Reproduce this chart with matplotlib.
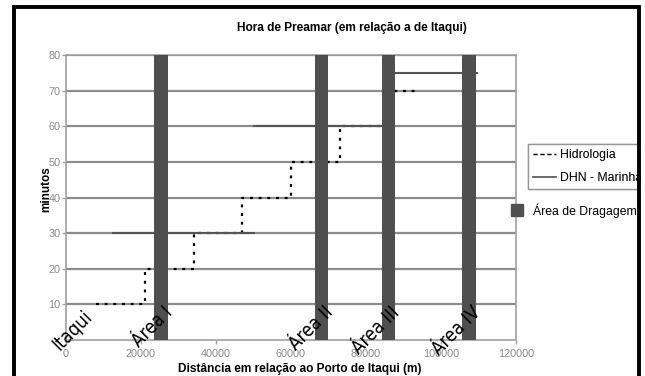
import numpy as np
import matplotlib
matplotlib.use('Agg')
import matplotlib.pyplot as plt
from matplotlib.lines import Line2D
from matplotlib.patches import Patch, Rectangle

# Hidrologia: tempo de preamar (min) ao longo do canal, em degraus
hid_x = [8000, 21000, 21000, 34000, 34000, 47000, 47000, 60000, 60000, 73000, 73000, 86000, 86000, 93000]
hid_y = [10, 10, 20, 20, 30, 30, 40, 40, 50, 50, 60, 60, 70, 70]

# DHN - Marinha: patamares separados (nan quebra a linha)
dhn_x = [12600, 50000, np.nan, 50000, 86000, np.nan, 88000, 109500]
dhn_y = [30, 30, np.nan, 60, 60, np.nan, 75, 75]

# áreas de dragagem (centro em metros)
areas = ['Área I', 'Área II', 'Área III', 'Área IV']
area_x = [25300, 68100, 86000, 107400]
area_h = [80, 80, 80, 80]

plt.rcParams['font.family'] = ['Liberation Sans', 'DejaVu Sans']

fig = plt.figure(figsize=(6.45, 3.76), dpi=100)
ax = fig.add_axes([66/645, 1-340/376, 450/645, 285/376])

grey = '#8c8c8c'
ax.set_xlim(0, 120000)
ax.set_ylim(0, 80)
ax.set_xticks(np.arange(0, 120001, 20000))
ax.set_yticks(np.arange(10, 81, 10))
ax.yaxis.grid(True, color=grey, lw=1.6, zorder=0)
ax.set_axisbelow(True)
for s in ax.spines.values():
    s.set_color('#a0a0a0')
    s.set_linewidth(1.2)
ax.tick_params(colors='#a0a0a0', labelcolor='#8a8a8a', labelsize=7.8, length=3, width=1)
ax.tick_params(axis='y', pad=1)

ax.plot(hid_x, hid_y, color='black', lw=1.6, linestyle=(0, (1.3, 2.6)), zorder=2)
ax.plot(dhn_x, dhn_y, color='#555555', lw=1.5, zorder=2)
ax.bar(area_x, area_h, width=3600, color='#4f4f4f', zorder=3)

# nomes dos locais, inclinados sobre o eixo
places = ['Itaqui'] + areas
place_x = [0] + area_x
for i, (name, x) in enumerate(zip(places, place_x)):
    off = (22, 24) if i == 0 else (11, 27)
    ax.annotate(name, xy=(x, 0), xytext=off, textcoords='offset points',
                rotation=45, ha='right', va='top', fontsize=13.5,
                family='DejaVu Sans', fontstretch='condensed',
                color='black', zorder=5, annotation_clip=False)

fig.text(352/645, 1-28/376, 'Hora de Preamar (em relação a de Itaqui)',
         ha='center', va='center', fontsize=8.6, fontweight='bold')
fig.text(300/645, 1-369/376, 'Distância em relação ao Porto de Itaqui (m)',
         ha='center', va='center', fontsize=8.6, fontweight='bold')
fig.text(46/645, 1-189/376, 'minutos', rotation=90,
         ha='center', va='center', fontsize=8.5, fontweight='bold')

h_hid = Line2D([], [], color='black', lw=1, linestyle=(0, (3, 2)))
h_dhn = Line2D([], [], color='#555555', lw=1.2)
leg1 = fig.legend(handles=[h_hid, h_dhn], labels=['Hidrologia', 'DHN - Marinha'],
                  loc='upper left', bbox_to_anchor=(528/645, 1-144/376),
                  fontsize=8.8, frameon=True, fancybox=False, edgecolor=grey,
                  borderaxespad=0, borderpad=0.4, labelspacing=0.9,
                  handlelength=1.9, handletextpad=0.3)
leg1.get_frame().set_linewidth(1)
fig.add_artist(leg1)
leg2 = fig.legend(handles=[Patch(color='#4f4f4f')], labels=['Área de Dragagem'],
                  loc='upper left', bbox_to_anchor=(511/645, 1-203/376),
                  fontsize=8.8, frameon=False, borderaxespad=0, borderpad=0,
                  handlelength=1.0, handleheight=1.1, handletextpad=0.8)

# moldura preta
fig.add_artist(Rectangle((641/645, 0), 4/645, 1, transform=fig.transFigure,
                         facecolor='white', edgecolor='none', zorder=20))
fig.add_artist(Rectangle((14/645, -0.2), 625/645, 1.2 - 6.5/376, transform=fig.transFigure,
                         fill=False, edgecolor='black', lw=2.8, zorder=21))

fig.savefig('out.png', dpi=100)
